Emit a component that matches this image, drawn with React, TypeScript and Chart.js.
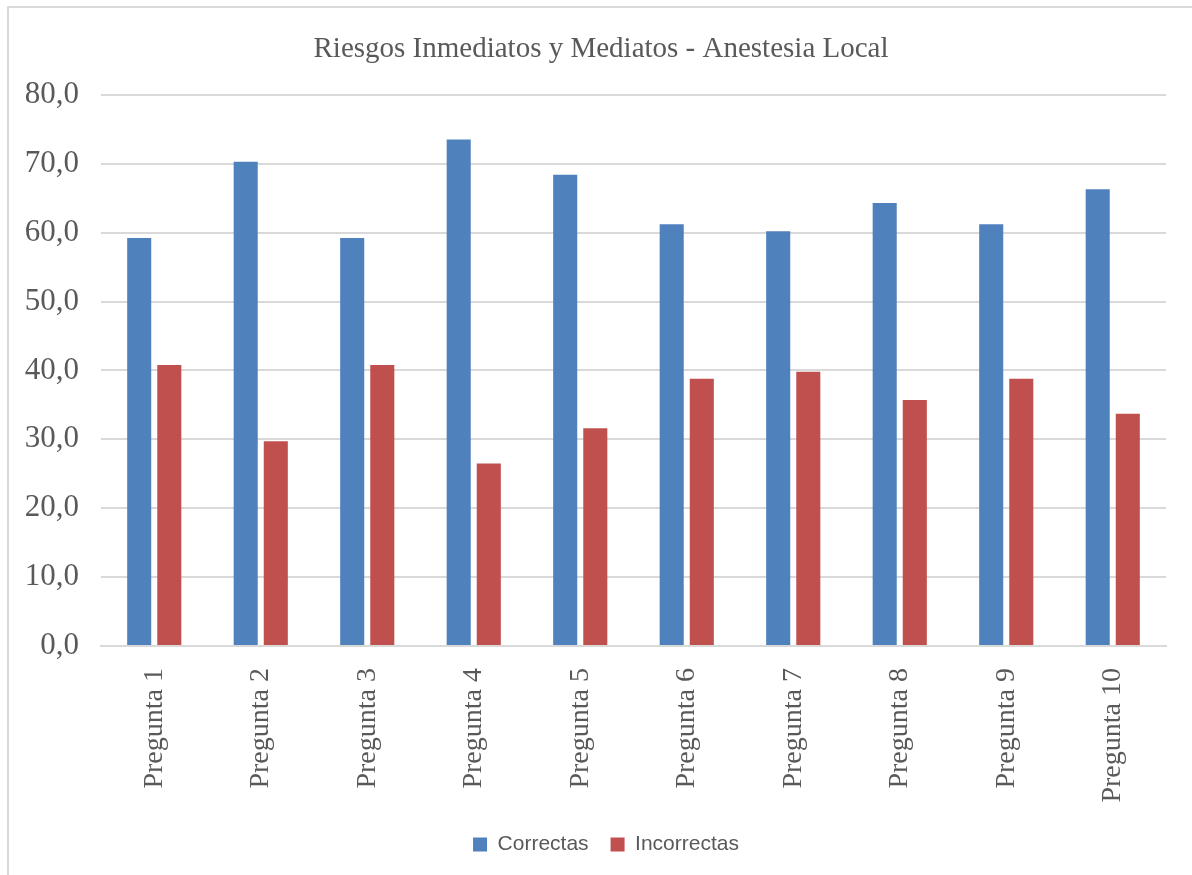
import React, { useEffect, useRef } from "react";
import { Chart, registerables } from "chart.js";

Chart.register(...registerables);

const categories = [
  "Pregunta 1",
  "Pregunta 2",
  "Pregunta 3",
  "Pregunta 4",
  "Pregunta 5",
  "Pregunta 6",
  "Pregunta 7",
  "Pregunta 8",
  "Pregunta 9",
  "Pregunta 10",
];
const correctas = [59.2, 70.3, 59.2, 73.5, 68.4, 61.2, 60.2, 64.3, 61.2, 66.3];
const incorrectas = [40.8, 29.7, 40.8, 26.5, 31.6, 38.8, 39.8, 35.7, 38.8, 33.7];

const SERIF = "'Liberation Serif', 'Times New Roman', serif";
const SANS = "'Liberation Sans', Arial, sans-serif";
const TEXT = "#595959";

// Nudge the title and legend boxes so they sit centred a little right of the canvas middle.
const shiftHeaderFooter = {
  id: "shiftHeaderFooter",
  afterLayout(chart: any) {
    const moves: [any, number][] = [
      [chart.titleBlock, 18],
      [chart.legend, 23],
    ];
    for (const [b, dx] of moves) {
      if (!b) continue;
      b.left += dx;
      b.right += dx;
    }
  },
};

export default function App() {
  const canvasRef = useRef<HTMLCanvasElement | null>(null);

  useEffect(() => {
    if (!canvasRef.current) return;
    const chart = new Chart(canvasRef.current, {
      type: "bar",
      data: {
        labels: categories,
        datasets: [
          {
            label: "Correctas",
            data: correctas,
            backgroundColor: "#4f81bd",
            barPercentage: 0.8,
            categoryPercentage: 0.565,
          },
          {
            label: "Incorrectas",
            data: incorrectas,
            backgroundColor: "#c0504d",
            barPercentage: 0.8,
            categoryPercentage: 0.565,
          },
        ],
      },
      plugins: [shiftHeaderFooter],
      options: {
        animation: false,
        responsive: false,
        maintainAspectRatio: false,
        layout: { padding: { left: 0, right: 26, top: 0, bottom: 10 } },
        plugins: {
          title: {
            display: true,
            text: "Riesgos Inmediatos y Mediatos - Anestesia Local",
            color: TEXT,
            font: { family: SERIF, size: 29, weight: "normal" },
            padding: { top: 32, bottom: 28 },
          },
          legend: {
            position: "bottom",
            labels: {
              color: TEXT,
              font: { family: SANS, size: 21 },
              boxWidth: 14,
              boxHeight: 14,
              padding: 22,
            },
          },
          tooltip: { enabled: false },
        },
        scales: {
          x: {
            grid: { display: false },
            border: { color: "#d9d9d9", width: 2 },
            ticks: {
              color: TEXT,
              font: { family: SERIF, size: 28 },
              minRotation: 90,
              maxRotation: 90,
              padding: 14,
              autoSkip: false,
            },
            afterFit: (scale: any) => {
              scale.height = 166;
            },
          },
          y: {
            min: 0,
            max: 80,
            grid: { color: "#d9d9d9", lineWidth: 2, drawTicks: false },
            border: { display: false },
            ticks: {
              stepSize: 10,
              color: TEXT,
              font: { family: SERIF, size: 31 },
              padding: 22,
              callback: (v: any) => Number(v).toFixed(1).replace(".", ","),
            },
            afterFit: (scale: any) => {
              scale.width = 101;
            },
          },
        },
      },
    });
    return () => chart.destroy();
  }, []);

  return (
    <div
      style={{
        position: "fixed",
        left: 0,
        top: 0,
        width: 1192,
        height: 875,
        background: "#ffffff",
        overflow: "hidden",
      }}
    >
      <div
        style={{
          position: "absolute",
          left: 7,
          top: 6,
          width: 1200,
          height: 900,
          border: "2px solid #d9d9d9",
          boxSizing: "border-box",
        }}
      />
      <canvas
        ref={canvasRef}
        width={1192}
        height={875}
        style={{ position: "absolute", left: 0, top: 0, width: 1192, height: 875 }}
      />
    </div>
  );
}
